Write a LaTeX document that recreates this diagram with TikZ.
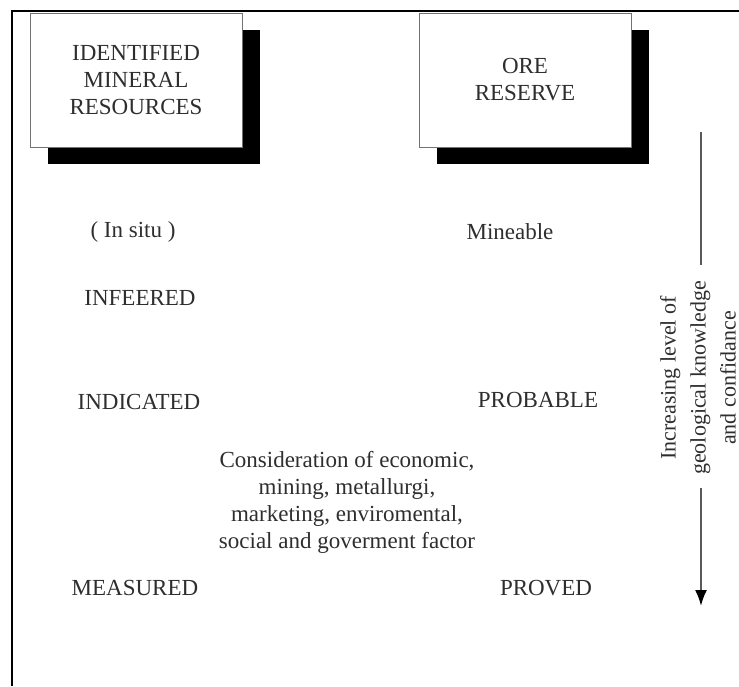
\documentclass[tikz,border=0pt]{standalone}
\usepackage{fontspec}
\setmainfont{Liberation Serif}
\usetikzlibrary{shadows,arrows.meta}
\begin{document}
\begin{tikzpicture}[x=1pt,y=-1pt,
  txt/.style={font=\fontsize{23}{27}\selectfont, text=black!82, align=center, inner sep=0pt},
  headbox/.style={txt, draw=black!55, line width=0.8pt, fill=white,
    minimum width=212pt, minimum height=134pt,
    drop shadow={shadow xshift=18pt, shadow yshift=-17pt, fill=black, opacity=1}},
  frameline/.style={line width=1.6pt, black},
  scale line/.style={line width=2pt, black!65},
]
\useasboundingbox (0,0) rectangle (739,686);
% frame
\coordinate (fb) at (12,686);
\coordinate (fc) at (12,11);
\coordinate (fr) at (739,11);
\draw[frameline] (fb) -- (fc) -- (fr);
% header boxes
\node[headbox] (ident) at (136,80) {IDENTIFIED\\MINERAL\\RESOURCES};
\node[headbox] (ore) at (525,80) {ORE\\RESERVE};
% labels
\node[txt] (insitu) at (133,232) {( In situ )};
\node[txt] (mine) at (510,232) {Mineable};
\node[txt] (inf) at (140,298) {INFEERED};
\node[txt] (ind) at (139,402) {INDICATED};
\node[txt] (prob) at (538,400) {PROBABLE};
\node[txt] (cons) at (347,502) {Consideration of economic,\\mining, metallurgi,\\marketing, enviromental,\\social and goverment factor};
\node[txt] (meas) at (135,588) {MEASURED};
\node[txt] (prov) at (546,588) {PROVED};
% knowledge arrow
\node[txt, rotate=90, font=\fontsize{22}{30}\selectfont] (conf) at (698,378)
  {Increasing level of\\geological knowledge\\and confidance};
\coordinate (a1) at (701,132);
\coordinate (a2) at (701,265);
\coordinate (a3) at (701,488);
\coordinate (a4) at (701,606);
\draw[scale line] (a1) -- (a2);
\draw[scale line, -{Latex[length=16pt,width=12pt,black]}] (a3) -- (a4);
\end{tikzpicture}
\end{document}
